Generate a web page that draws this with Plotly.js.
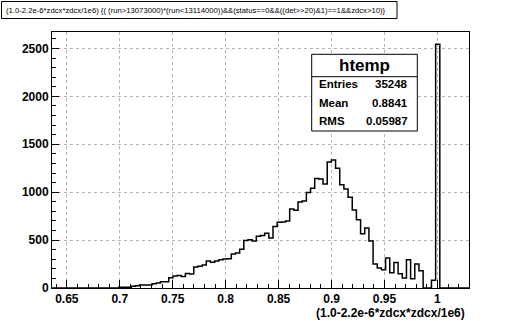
<!DOCTYPE html>
<html>
<head>
<meta charset="utf-8">
<script src="https://cdn.plot.ly/plotly-3.0.1.min.js"></script>
<style>html,body{margin:0;padding:0;background:#fff;} #chart{width:522px;height:321px;}</style>
</head>
<body>
<div id="chart"></div>
<script>
// Histogram definition (100 bins)
const binLow = 0.636;
const binWidth = 0.003938;
const counts = [
  0,0,0,0,0,0,0,0,0,0,
  0,0,0,0,0,0,7,7,7,17,
  24,31,31,31,45,52,66,66,108,125,
  130,120,152,146,219,226,240,282,268,282,
  296,302,306,355,365,405,497,503,490,539,
  549,572,522,643,685,688,700,825,811,898,
  908,998,1040,1144,1137,1085,1315,1336,1249,1078,
  1034,946,815,713,567,626,491,250,209,191,
  313,160,265,150,104,295,96,250,180,0,
  0,80,2545,0,0,0,0,0,0,0
];
const histName = "htemp";
const statLabels = ["Entries", "Mean", "RMS"];
const statValues = ["35248", "0.8841", "0.05987"];
const titleText = "(1.0-2.2e-6*zdcx*zdcx/1e6) {( (run&gt;13073000)*(run&lt;13114000))&amp;&amp;(status==0&amp;&amp;((det&gt;&gt;20)&amp;1)==1&amp;&amp;zdcx&gt;10)}";
const xTitle = "(1.0-2.2e-6*zdcx*zdcx/1e6)";

// Build step outline from bin edges
const xs = [], ys = [];
for (let i = 0; i < counts.length; i++) { xs.push(binLow + i * binWidth); ys.push(counts[i]); }
xs.push(binLow + counts.length * binWidth); ys.push(counts[counts.length - 1]);

const W = 522, H = 321;
const L = 52, R = 53, T = 32, B = 33;
const pw = W - L - R, ph = H - T - B;
const px = x => (x - L) / pw;
const py = y => (H - B - y) / ph;

const bold = {family: "Liberation Sans, Arial, sans-serif", size: 12, color: "#000", weight: "bold"};

const trace = {
  x: xs, y: ys, type: "scatter", mode: "lines",
  line: {shape: "hv", color: "#000", width: 1.5},
  hoverinfo: "skip"
};

const axisCommon = {
  showline: true, linecolor: "#000", linewidth: 1, mirror: true,
  ticks: "inside", tickcolor: "#000", tickwidth: 1,
  showgrid: true, gridcolor: "#b4b4b4", griddash: "dot", gridwidth: 1,
  zeroline: false, tickfont: bold, fixedrange: true
};

const layout = {
  width: W, height: H,
  margin: {l: L, r: R, t: T, b: B, pad: 0},
  paper_bgcolor: "#fff", plot_bgcolor: "#fff",
  showlegend: false,
  xaxis: Object.assign({}, axisCommon, {
    range: [binLow, binLow + 100 * binWidth],
    tick0: 0.65, dtick: 0.05, ticklen: 8,
    tickformat: "~g",
    minor: {dtick: 0.01, tick0: 0.65, ticks: "inside", ticklen: 4, tickcolor: "#000", showgrid: false}
  }),
  yaxis: Object.assign({}, axisCommon, {
    range: [0, 2672],
    tick0: 0, dtick: 500, ticklen: 7,
    minor: {dtick: 100, ticks: "inside", ticklen: 4, tickcolor: "#000", showgrid: false}
  }),
  shapes: [
    {type: "rect", xref: "paper", yref: "paper", x0: px(1.5), x1: px(397), y0: py(1.5), y1: py(18.5),
     line: {color: "#000", width: 1}, fillcolor: "#fff"},
    {type: "rect", xref: "paper", yref: "paper", x0: px(311.7), x1: px(417.3), y0: py(54.3), y1: py(131),
     line: {color: "#000", width: 1}, fillcolor: "#fff"},
    {type: "line", xref: "paper", yref: "paper", x0: px(311.7), x1: px(417.3), y0: py(76.7), y1: py(76.7),
     line: {color: "#000", width: 1}}
  ],
  annotations: [
    {xref: "paper", yref: "paper", x: px(4), y: py(10), xanchor: "left", yanchor: "middle", showarrow: false,
     text: titleText, font: {family: "Liberation Sans, Arial, sans-serif", size: 7.7, color: "#000"}},
    {xref: "paper", yref: "paper", x: px(467), y: py(312.5), xanchor: "right", yanchor: "middle", showarrow: false,
     text: xTitle, font: bold},
    {xref: "paper", yref: "paper", x: px(364.5), y: py(65.5), xanchor: "center", yanchor: "middle", showarrow: false,
     text: histName, font: {family: "Liberation Sans, Arial, sans-serif", size: 17, color: "#000", weight: "bold"}}
  ]
};

const rowsY = [83.5, 103.3, 120.8];
for (let i = 0; i < statLabels.length; i++) {
  layout.annotations.push({xref: "paper", yref: "paper", x: px(316.5), y: py(rowsY[i]), xanchor: "left", yanchor: "middle",
    showarrow: false, text: statLabels[i], font: Object.assign({}, bold, {size: 11.5})});
  layout.annotations.push({xref: "paper", yref: "paper", x: px(409.5), y: py(rowsY[i]), xanchor: "right", yanchor: "middle",
    showarrow: false, text: statValues[i], font: Object.assign({}, bold, {size: 11.5})});
}

Plotly.newPlot("chart", [trace], layout, {displayModeBar: false, staticPlot: true});
</script>
</body>
</html>
